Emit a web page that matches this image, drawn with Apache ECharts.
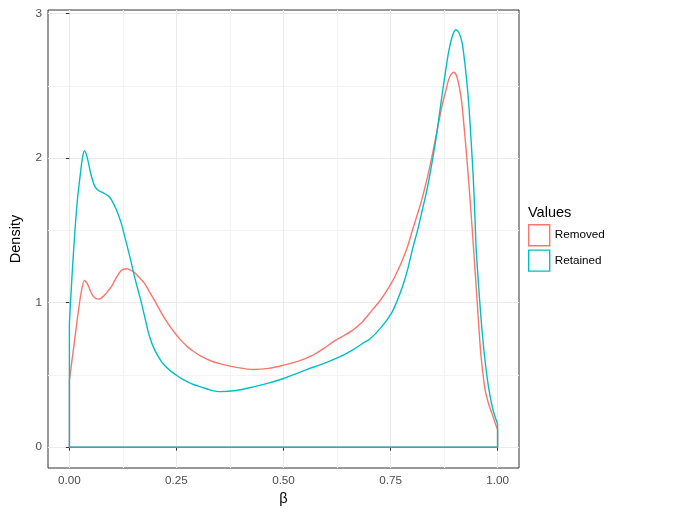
<!DOCTYPE html>
<html>
<head>
<meta charset="utf-8">
<script src="https://cdn.jsdelivr.net/npm/echarts@6/dist/echarts.min.js"></script>
<style>html,body{margin:0;padding:0;background:#fff}#c{width:680px;height:520px}</style>
</head>
<body>
<div id="c"></div>
<script>
// Data
var groupNames = ['Removed', 'Retained'];
var xTicks = [0, 0.25, 0.5, 0.75, 1];
var xTickLabels = ['0.00', '0.25', '0.50', '0.75', '1.00'];
var xMinor = [0.125, 0.375, 0.625, 0.875];
var yTicks = [0, 1, 2, 3];
var yMinor = [0.5, 1.5, 2.5];

var removedX = [0.000, 0.006, 0.013, 0.020, 0.027, 0.035, 0.042, 0.050, 0.058, 0.068, 0.080, 0.090, 0.100, 0.110, 0.121, 0.133, 0.145, 0.152, 0.163, 0.175, 0.186, 0.198, 0.210, 0.222, 0.236, 0.250, 0.263, 0.276, 0.291, 0.307, 0.330, 0.353, 0.390, 0.430, 0.465, 0.500, 0.535, 0.569, 0.595, 0.616, 0.640, 0.662, 0.682, 0.701, 0.727, 0.752, 0.765, 0.778, 0.790, 0.801, 0.811, 0.821, 0.835, 0.846, 0.856, 0.864, 0.871, 0.879, 0.886, 0.892, 0.898, 0.904, 0.910, 0.916, 0.921, 0.927, 0.933, 0.939, 0.944, 0.952, 0.960, 0.965, 0.971, 0.979, 0.987, 0.994, 1.000];
var removedY = [0.46, 0.60, 0.76, 0.92, 1.06, 1.153, 1.13, 1.075, 1.035, 1.024, 1.045, 1.08, 1.12, 1.175, 1.222, 1.234, 1.222, 1.208, 1.175, 1.135, 1.08, 1.019, 0.955, 0.892, 0.83, 0.776, 0.732, 0.694, 0.66, 0.63, 0.598, 0.576, 0.552, 0.537, 0.545, 0.567, 0.595, 0.637, 0.685, 0.729, 0.77, 0.81, 0.86, 0.926, 1.02, 1.135, 1.21, 1.297, 1.39, 1.5, 1.595, 1.69, 1.852, 2.0, 2.15, 2.27, 2.37, 2.465, 2.546, 2.58, 2.593, 2.57, 2.5, 2.39, 2.24, 2.04, 1.82, 1.58, 1.37, 1.02, 0.672, 0.53, 0.394, 0.30, 0.232, 0.17, 0.12];

var retainedX = [0.000, 0.006, 0.013, 0.019, 0.025, 0.030, 0.035, 0.040, 0.045, 0.050, 0.059, 0.068, 0.079, 0.090, 0.098, 0.110, 0.121, 0.129, 0.137, 0.145, 0.152, 0.160, 0.168, 0.176, 0.183, 0.190, 0.198, 0.210, 0.222, 0.236, 0.250, 0.263, 0.276, 0.291, 0.307, 0.330, 0.353, 0.390, 0.430, 0.465, 0.500, 0.527, 0.554, 0.590, 0.631, 0.660, 0.685, 0.701, 0.727, 0.752, 0.765, 0.778, 0.790, 0.801, 0.813, 0.825, 0.835, 0.844, 0.856, 0.864, 0.871, 0.879, 0.886, 0.895, 0.903, 0.910, 0.917, 0.923, 0.929, 0.933, 0.937, 0.943, 0.947, 0.950, 0.958, 0.963, 0.968, 0.974, 0.980, 0.990, 1.000];
var retainedY = [0.86, 1.18, 1.50, 1.72, 1.875, 1.99, 2.05, 2.02, 1.96, 1.89, 1.806, 1.775, 1.76, 1.74, 1.713, 1.64, 1.55, 1.46, 1.366, 1.27, 1.18, 1.09, 1.0, 0.90, 0.81, 0.74, 0.68, 0.615, 0.567, 0.528, 0.498, 0.472, 0.451, 0.432, 0.417, 0.395, 0.384, 0.392, 0.417, 0.443, 0.475, 0.505, 0.537, 0.575, 0.625, 0.67, 0.718, 0.746, 0.825, 0.926, 1.01, 1.111, 1.23, 1.366, 1.50, 1.65, 1.78, 1.92, 2.13, 2.30, 2.45, 2.61, 2.74, 2.85, 2.887, 2.865, 2.80, 2.67, 2.5, 2.36, 2.176, 1.875, 1.6, 1.37, 1.02, 0.83, 0.672, 0.52, 0.394, 0.25, 0.16];

var colors = ['#F8766D', '#00BFC4'];

function zip(xs, ys) { return xs.map(function (x, i) { return [x, ys[i]]; }); }
function frame(xs, ys) {
  var n = xs.length - 1;
  return [[xs[0], ys[0]], [xs[0], 0], [xs[n], 0], [xs[n], ys[n]]];
}

var chart = echarts.init(document.getElementById('c'), null, { renderer: 'canvas' });
var FONT = 'Liberation Sans, Arial, Helvetica, sans-serif';
var groups = [[removedX, removedY], [retainedX, retainedY]];
var series = [];
groups.forEach(function (g, i) {
  series.push({
    type: 'line', name: groupNames[i], data: zip(g[0], g[1]),
    smooth: 0.3, showSymbol: false, symbol: 'none',
    lineStyle: { color: colors[i], width: 1.4 }, itemStyle: { color: colors[i] },
    z: 3 + i * 2, silent: true, animation: false
  });
  series.push({
    type: 'line', name: groupNames[i] + '_frame', data: frame(g[0], g[1]),
    showSymbol: false, symbol: 'none',
    lineStyle: { color: colors[i], width: 1.4 }, itemStyle: { color: colors[i] },
    z: 3 + i * 2, silent: true, animation: false
  });
});

var gridBox = { left: 46, right: 161, top: 10, bottom: 52 };
chart.setOption({
  animation: false,
  backgroundColor: '#ffffff',
  title: {
    text: 'Values', left: 528, top: 205, padding: 0,
    textStyle: { fontFamily: FONT, fontSize: 14.5, fontWeight: 'normal', color: '#000' }
  },
  legend: {
    left: 528, top: 224, padding: 0, orient: 'vertical', itemWidth: 21, itemHeight: 21, itemGap: 3,
    textStyle: { fontFamily: FONT, fontSize: 11.7, color: '#000' },
    data: groupNames.map(function (n, i) {
      return { name: n, icon: 'rect', itemStyle: { color: '#ffffff', borderColor: colors[i], borderWidth: 1.4 }, lineStyle: { width: 0 } };
    }),
    selectedMode: false
  },
  grid: Object.assign({ show: true, borderColor: '#333333', borderWidth: 1, backgroundColor: '#ffffff', containLabel: false }, gridBox),
  xAxis: [{
    type: 'value', min: -0.05, max: 1.05,
    name: 'β', nameLocation: 'middle', nameGap: 18,
    nameTextStyle: { fontFamily: FONT, fontSize: 14.5, color: '#000' },
    axisLine: { show: false },
    axisTick: { show: true, customValues: xTicks, length: 3.5, lineStyle: { color: '#333333', width: 1 } },
    axisLabel: { customValues: xTicks, margin: 7, fontFamily: FONT, fontSize: 11.7, color: '#4D4D4D',
      formatter: function (v) { var k = xTicks.indexOf(Math.round(v * 1000) / 1000); return k >= 0 ? xTickLabels[k] : ''; } },
    splitLine: { show: true, lineStyle: { color: '#EBEBEB', width: 1 } }
  }, {
    type: 'value', min: -0.05, max: 1.05, position: 'bottom',
    axisLine: { show: false }, axisLabel: { show: false },
    axisTick: { show: false, customValues: xMinor },
    splitLine: { show: true, lineStyle: { color: '#F3F3F3', width: 1 } }
  }],
  yAxis: [{
    type: 'value', min: -0.144, max: 3.024,
    name: 'Density', nameLocation: 'middle', nameGap: 25,
    nameTextStyle: { fontFamily: FONT, fontSize: 14.5, color: '#000' },
    axisLine: { show: false },
    axisTick: { show: true, customValues: yTicks, length: 3.5, lineStyle: { color: '#333333', width: 1 } },
    axisLabel: { customValues: yTicks, margin: 6, fontFamily: FONT, fontSize: 11.7, color: '#4D4D4D',
      formatter: function (v) { return String(Math.round(v)); } },
    splitLine: { show: true, lineStyle: { color: '#EBEBEB', width: 1 } }
  }, {
    type: 'value', min: -0.144, max: 3.024, position: 'left',
    axisLine: { show: false }, axisLabel: { show: false },
    axisTick: { show: false, customValues: yMinor },
    splitLine: { show: true, lineStyle: { color: '#F3F3F3', width: 1 } }
  }],
  series: series
});
</script>
</body>
</html>
